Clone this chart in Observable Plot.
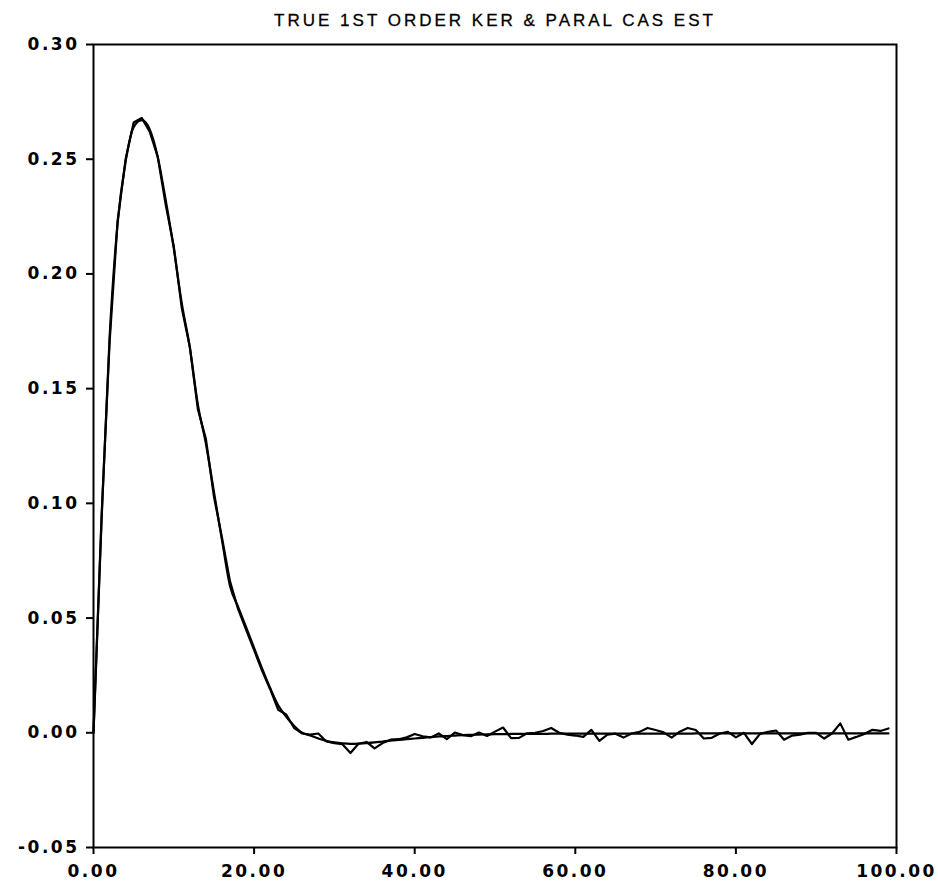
<!DOCTYPE html>
<html><head><meta charset="utf-8">
<script src="https://cdn.jsdelivr.net/npm/d3@7"></script>
<script src="https://cdn.jsdelivr.net/npm/@observablehq/plot@0.6"></script>
<style>body{margin:0;background:#fff}</style>
</head><body><div id="chart"></div>
<script>
const title = "TRUE 1ST ORDER KER & PARAL CAS EST";
const xTicks = [0, 20, 40, 60, 80, 100];
const yTicks = [-0.05, 0, 0.05, 0.10, 0.15, 0.20, 0.25, 0.30];
const lags = d3.range(0, 100);
const trueKernel = [
  0, 0.092, 0.172, 0.222, 0.249, 0.264, 0.267, 0.263, 0.251, 0.232,
  0.211, 0.187, 0.168, 0.143, 0.126, 0.105, 0.084, 0.064, 0.055, 0.046,
  0.037, 0.028, 0.0195, 0.012, 0.007, 0.003, 0.000, -0.0012, -0.0025, -0.0035,
  -0.0042, -0.0046, -0.0048, -0.0047, -0.0045, -0.0042, -0.0038, -0.0034, -0.0031, -0.0028,
  -0.0025, -0.0022, -0.0019, -0.0016, -0.0014, -0.0012, -0.0010, -0.0009, -0.0008, -0.0007,
  -0.0006, -0.0006, -0.0005, -0.0005, -0.0005, -0.0005, -0.0005, -0.0004, -0.0004, -0.0004,
  -0.0004, -0.0004, -0.0004, -0.0004, -0.0004, -0.0004, -0.0004, -0.0004, -0.0004, -0.0004,
  -0.0004, -0.0004, -0.0004, -0.0004, -0.0004, -0.0003, -0.0003, -0.0003, -0.0003, -0.0003,
  -0.0003, -0.0003, -0.0003, -0.0003, -0.0003, -0.0003, -0.0003, -0.0003, -0.0003, -0.0003,
  -0.0003, -0.0003, -0.0003, -0.0003, -0.0003, -0.0003, -0.0003, -0.0003, -0.0003, -0.0003
];
const estimate = [
  0, 0.094, 0.170, 0.223, 0.250, 0.266, 0.268, 0.262, 0.251, 0.230,
  0.212, 0.185, 0.168, 0.141, 0.128, 0.103, 0.085, 0.066, 0.054, 0.045,
  0.036, 0.027, 0.019, 0.010, 0.008, 0.002, -0.0003, -0.0008, -0.0003, -0.0038,
  -0.0045, -0.0050, -0.0088, -0.0048, -0.0040, -0.0068, -0.0045, -0.0030, -0.0028, -0.0020,
  -0.0005, -0.0015, -0.0020, -0.0003, -0.0028, 0.0001, -0.0010, -0.0015, 0.0001, -0.0014,
  0.0005, 0.0023, -0.0023, -0.0022, -0.0002, 0.0000, 0.0008, 0.0021, 0.0000, -0.0008,
  -0.0012, -0.0018, 0.0013, -0.0035, -0.0008, -0.0004, -0.0021, -0.0003, 0.0004, 0.0021,
  0.0012, 0.0002, -0.0021, 0.0005, 0.0021, 0.0012, -0.0025, -0.0022, -0.0003, 0.0004,
  -0.0020, 0.0000, -0.0049, -0.0005, 0.0004, 0.0010, -0.0030, -0.0012, -0.0008, 0.0000,
  0.0000, -0.0025, -0.0002, 0.0041, -0.0030, -0.0018, -0.0005, 0.0013, 0.0008, 0.0019
];

const trueData = lags.map((x, i) => ({x, y: trueKernel[i]}));
const estData = lags.map((x, i) => ({x, y: estimate[i]}));

const chart = Plot.plot({
  width: 938,
  height: 884,
  marginTop: 44,
  marginLeft: 93,
  marginRight: 42,
  marginBottom: 37,
  style: {fontFamily: "DejaVu Sans", fontWeight: "bold", fontSize: "17px", color: "#000", background: "#fff"},
  x: {domain: [0, 100]},
  y: {domain: [-0.05, 0.30]},
  marks: [
    Plot.line(trueData, {x: "x", y: "y", stroke: "#000", strokeWidth: 2.2, curve: "monotone-x"}),
    Plot.line(estData, {x: "x", y: "y", stroke: "#000", strokeWidth: 2.2}),
    Plot.frame({stroke: "#000", strokeWidth: 2}),
    Plot.axisX({ticks: xTicks, tickFormat: d => d.toFixed(2), tickSize: 7, tickPadding: 10, label: null, strokeWidth: 2}),
    Plot.axisY({ticks: yTicks, tickFormat: d => d.toFixed(2), tickSize: 7, tickPadding: 7, label: null, strokeWidth: 2}),
    Plot.text([title], {frameAnchor: "top", dy: -31, fontFamily: "Liberation Sans", fontWeight: "normal", fontSize: 17, fill: "#000"})
  ]
});
document.getElementById("chart").appendChild(chart);
d3.select(chart).selectAll("g[aria-label='x-axis tick label'] text, g[aria-label='y-axis tick label'] text").style("letter-spacing", "2.5px");
d3.select(chart).selectAll("g[aria-label='text'] text").style("letter-spacing", "3px").style("stroke", "#000").style("stroke-width", "0.3px");
</script>
</body></html>
